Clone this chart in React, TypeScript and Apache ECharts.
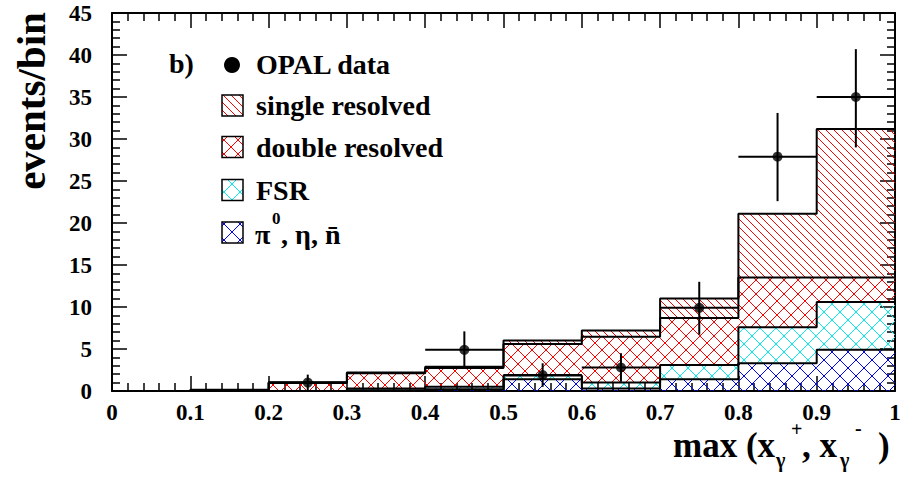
import React, { useEffect, useRef } from "react";
import * as echarts from "echarts";

// ---------------- data ----------------
const binEdges = [0, 0.1, 0.2, 0.3, 0.4, 0.5, 0.6, 0.7, 0.8, 0.9, 1.0];
// per-component bin contents (stacked bottom -> top)
const pionEtaNbar = [0, 0, 0, 0.1, 0.2, 1.4, 0.3, 1.4, 3.3, 4.9];
const fsr = [0, 0, 0, 0.2, 0.3, 0.45, 0.7, 1.7, 4.3, 5.7];
const doubleResolved = [0, 0.1, 0.95, 1.8, 2.25, 3.75, 5.45, 5.6, 5.9, 2.9];
const singleResolved = [0, 0.05, 0.08, 0.1, 0.15, 0.4, 0.75, 2.3, 7.6, 17.7];

// OPAL data points
const dataX = [0.25, 0.45, 0.55, 0.65, 0.75, 0.85, 0.95];
const dataY = [1.0, 4.9, 1.9, 2.8, 9.9, 27.9, 35.0];
const dataErrLow = [0, 2.75, 0.5, 1.1, 6.7, 22.6, 29.0];
const dataErrHigh = [1.95, 7.1, 3.3, 4.5, 13.0, 33.1, 40.7];

const xTickLabels = ["0", "0.1", "0.2", "0.3", "0.4", "0.5", "0.6", "0.7", "0.8", "0.9", "1"];
const yTickLabels = ["0", "5", "10", "15", "20", "25", "30", "35", "40", "45"];

const legendLabels = ["OPAL data", "single resolved", "double resolved", "FSR"];

// ---------------- styles ----------------
const FONT = "'Liberation Serif', serif";

type Comp = { values: number[]; color: string; dirs: number[]; d: number };
const components: Comp[] = [
  { values: pionEtaNbar, color: "#0000ff", dirs: [1, -1], d: 16 },
  { values: fsr, color: "#00eeee", dirs: [1, -1], d: 16 },
  { values: doubleResolved, color: "#ff0000", dirs: [1, -1], d: 14 },
  { values: singleResolved, color: "#ff0000", dirs: [1], d: 8 },
];

function hatch(xl: number, xr: number, yt: number, yb: number, d: number, dir: number) {
  const segs: number[][] = [];
  if (dir === 1) {
    const cmin = yt - xr, cmax = yb - xl;
    for (let k = Math.ceil(cmin / d); k <= Math.floor(cmax / d); k++) {
      const c = k * d;
      const xa = Math.max(xl, yt - c), xb = Math.min(xr, yb - c);
      if (xb > xa) segs.push([xa, xa + c, xb, xb + c]);
    }
  } else {
    const cmin = yt + xl, cmax = yb + xr;
    for (let k = Math.ceil(cmin / d); k <= Math.floor(cmax / d); k++) {
      const c = k * d;
      const xa = Math.max(xl, c - yb), xb = Math.min(xr, c - yt);
      if (xb > xa) segs.push([xa, c - xa, xb, c - xb]);
    }
  }
  return segs;
}

function hatchElements(xl: number, xr: number, yt: number, yb: number, comp: Comp) {
  const out: any[] = [];
  comp.dirs.forEach((dir) => {
    hatch(xl, xr, yt, yb, comp.d, dir).forEach((s) => {
      out.push({
        type: "line",
        shape: { x1: s[0], y1: s[1], x2: s[2], y2: s[3] },
        style: { stroke: comp.color, lineWidth: 1 },
        silent: true,
      });
    });
  });
  return out;
}

function buildOption() {
  // cumulative levels
  const cum: number[][] = [];
  components.forEach((c, k) => {
    cum.push(c.values.map((v, i) => v + (k > 0 ? cum[k - 1][i] : 0)));
  });

  const hatchSeries = components.map((comp, k) => ({
    type: "custom",
    z: 2,
    silent: true,
    data: comp.values.map((v, i) => [
      binEdges[i],
      binEdges[i + 1],
      k > 0 ? cum[k - 1][i] : 0,
      cum[k][i],
    ]),
    renderItem: (params: any, api: any) => {
      const x0 = api.value(0), x1 = api.value(1), lo = api.value(2), hi = api.value(3);
      const tl = api.coord([x0, hi]);
      const br = api.coord([x1, lo]);
      if (br[1] - tl[1] < 0.3) return { type: "group", children: [] };
      return { type: "group", children: hatchElements(tl[0], br[0], tl[1], br[1], comp) };
    },
  }));

  const stepSeries = cum.map((levels) => ({
    type: "line",
    step: "end",
    z: 3,
    silent: true,
    symbol: "none",
    lineStyle: { color: "#000", width: 2 },
    data: [...levels.map((v, i) => [binEdges[i], v]), [binEdges[binEdges.length - 1], levels[levels.length - 1]]],
  }));

  const errSeries = {
    type: "custom",
    z: 4,
    silent: true,
    data: dataX.map((x, i) => [x, dataY[i], dataErrLow[i], dataErrHigh[i], 0.05]),
    renderItem: (params: any, api: any) => {
      const x = api.value(0), y = api.value(1), lo = api.value(2), hi = api.value(3), hw = api.value(4);
      const pLo = api.coord([x, lo]);
      const pHi = api.coord([x, hi]);
      const pL = api.coord([x - hw, y]);
      const pR = api.coord([x + hw, y]);
      return {
        type: "group",
        children: [
          { type: "line", shape: { x1: pLo[0], y1: pLo[1], x2: pHi[0], y2: pHi[1] }, style: { stroke: "#000", lineWidth: 2 } },
          { type: "line", shape: { x1: pL[0], y1: pL[1], x2: pR[0], y2: pR[1] }, style: { stroke: "#000", lineWidth: 2 } },
        ],
      };
    },
  };

  const pointSeries = {
    type: "scatter",
    z: 5,
    silent: true,
    symbol: "circle",
    symbolSize: 10,
    itemStyle: { color: "#000" },
    data: dataX.map((x, i) => [x, dataY[i]]),
  };

  const axisCommon = {
    type: "value",
    axisLine: { show: true, onZero: false, lineStyle: { color: "#000", width: 2 } },
    axisTick: { show: true, inside: true, length: 15, lineStyle: { color: "#000", width: 1.5 } },
    minorTick: { show: true, splitNumber: 5, length: 8, lineStyle: { color: "#000", width: 1.5 } },
    splitLine: { show: false },
    minorSplitLine: { show: false },
  };
  const labelStyle = {
    color: "#000",
    fontFamily: "Liberation Serif",
    fontWeight: "bold",
    fontSize: 23,
    showMinLabel: true,
    showMaxLabel: true,
  };

  // legend graphics
  const gtext = (text: string, x: number, y: number, size: number, extra: any = {}) => ({
    type: "text",
    x,
    y,
    z: 20,
    style: {
      text,
      fill: "#000",
      font: `bold ${size}px ${FONT}`,
      align: "left",
      verticalAlign: "middle",
      textAlign: "left",
      textVerticalAlign: "middle",
      ...extra,
    },
  });

  const legendRows = [105.5, 147, 190, 232.5];
  const legendComps = [components[3], components[2], components[1], components[0]];
  const legendEls: any[] = [];
  legendRows.forEach((cy, r) => {
    const xl = 222, xr = 243, yt = cy - 10.5, yb = cy + 10.5;
    legendEls.push(...hatchElements(xl, xr, yt, yb, legendComps[r]).map((e) => ({ ...e, z: 19 })));
    legendEls.push({
      type: "rect",
      z: 20,
      shape: { x: xl, y: yt, width: xr - xl, height: yb - yt },
      style: { fill: "none", stroke: "#000", lineWidth: 1.5 },
    });
  });

  const graphic = [
    gtext("b)", 169, 63, 28),
    { type: "circle", z: 20, shape: { cx: 232, cy: 65, r: 8 }, style: { fill: "#000" } },
    gtext(legendLabels[0], 256, 64, 28),
    gtext(legendLabels[1], 256, 105, 28),
    gtext(legendLabels[2], 256, 147, 28),
    gtext(legendLabels[3], 256, 190, 28),
    gtext("π", 255, 234, 28),
    gtext("0", 272, 218, 17),
    gtext(", η, n\u0304", 281, 234, 28),
    ...legendEls,
    // y axis title
    {
      type: "text",
      x: 31,
      y: 101,
      rotation: Math.PI / 2,
      z: 20,
      style: {
        text: "events/bin",
        fill: "#000",
        font: `bold 41px ${FONT}`,
        align: "center",
        verticalAlign: "middle",
        textAlign: "center",
        textVerticalAlign: "middle",
      },
    },
    // x axis title pieces
    gtext("max (x", 673, 445, 35),
    gtext("γ", 776, 460, 20),
    gtext("+", 791, 429, 20),
    gtext(", x", 802, 445, 35),
    gtext("γ", 840, 460, 20),
    gtext("-", 855, 428, 20),
    gtext(")", 878, 445, 35),
  ];

  return {
    animation: false,
    backgroundColor: "#fff",
    grid: { left: 112, top: 13, width: 783, height: 378, containLabel: false },
    xAxis: [
      {
        ...axisCommon,
        position: "bottom",
        min: 0,
        max: 1,
        interval: 0.1,
        axisLabel: { ...labelStyle, margin: 10, formatter: (v: number) => xTickLabels[Math.round(v * 10)] ?? "" },
      },
      {
        ...axisCommon,
        position: "top",
        min: 0,
        max: 1,
        interval: 0.1,
        axisLabel: { show: false },
      },
    ],
    yAxis: [
      {
        ...axisCommon,
        position: "left",
        min: 0,
        max: 45,
        interval: 5,
        axisLabel: { ...labelStyle, margin: 20, formatter: (v: number) => yTickLabels[Math.round(v / 5)] ?? "" },
      },
      {
        ...axisCommon,
        position: "right",
        min: 0,
        max: 45,
        interval: 5,
        axisLabel: { show: false },
      },
    ],
    series: [...hatchSeries, ...stepSeries, errSeries, pointSeries],
    graphic,
  };
}

export default function App() {
  const ref = useRef<HTMLDivElement>(null);
  useEffect(() => {
    if (!ref.current) return;
    const chart = echarts.init(ref.current, undefined, { renderer: "svg" });
    chart.setOption(buildOption() as any);
    return () => chart.dispose();
  }, []);
  return (
    <div
      ref={ref}
      style={{ position: "fixed", left: 0, top: 0, width: 906, height: 479, background: "#fff" }}
    />
  );
}
